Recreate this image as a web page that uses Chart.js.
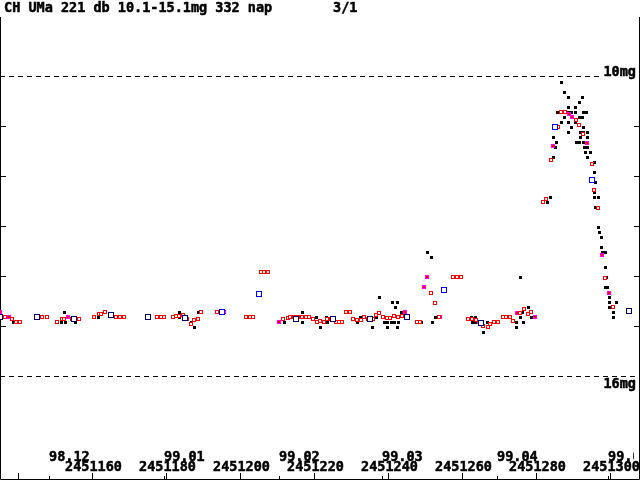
<!DOCTYPE html>
<html><head><meta charset="utf-8">
<script src="https://cdn.jsdelivr.net/npm/chart.js@4.4.0/dist/chart.umd.min.js"></script>
<style>html,body{margin:0;padding:0;background:#fff;overflow:hidden}#wrap{width:640px;height:480px;position:relative}canvas{display:block}</style>
</head><body><div id="wrap"><canvas id="c" width="640" height="480"></canvas></div>
<script>
const titleText = 'CH UMa 221 db 10.1-15.1mg 332 nap';
const pageText = '3/1';
const jdTicks = [2451140,2451160,2451180,2451200,2451220,2451240,2451260,2451280,2451300];
const jdLabels = ['','2451160','2451180','2451200','2451220','2451240','2451260','2451280','2451300'];
const monthJD = [2451148.5,2451179.5,2451210.5,2451238.5,2451269.5,2451299.5];
const monthLabels = ['98.12','99.01','99.02','99.03','99.04','99.05'];
const magTicks = [11,12,13,14,15];
const magLines = [10,16];
const magLineLabels = ['10mg','16mg'];

// visual estimates (black dots)
const visJD = [2451138.7,2451152.5,2451151.7,2451152.8,2451155.5,2451161.7,2451183.6,2451183.6,2451186.8,2451187.7,2451188.7,
2451212.0,2451216.8,2451216.8,2451220.6,2451221.7,2451223.3,2451223.6,2451229.5,2451231.7,2451232.5,2451235.8,2451236.8,2451237.7,
2451239.0,2451239.8,2451240.9,2451241.7,2451242.0,2451242.8,2451242.5,2451241.2,2451239.8,2451242.5,2451243.6,2451249.0,2451252.0,
2451252.8,2451250.6,2451251.7,2451262.5,2451263.6,2451262.8,2451263.6,2451266.8,2451265.8,2451275.8,2451276.3,2451277.9,2451275.8,
2451274.7,2451276.6,2451274.7,2451278.7,
2451286.8,2451287.7,2451288.7,2451292.3,2451291.7,2451288.7,2451290.6,2451285.8,2451288.7,2451289.5,2451290.6,2451292.8,2451293.6,
2451287.7,2451291.7,2451292.3,2451286.8,2451288.7,2451290.6,2451292.8,2451289.5,2451288.7,2451292.0,2451292.8,2451293.9,2451284.7,
2451292.0,2451293.9,2451285.5,2451290.9,2451291.7,2451292.8,2451285.2,2451293.1,2451293.9,2451293.3,2451294.7,2451293.9,2451284.7,
2451295.8,2451295.8,2451296.0,2451295.8,2451295.8,2451296.8,2451283.9,2451283.1,2451296.0,2451296.8,2451297.1,2451297.7,2451297.7,
2451297.9,2451298.7,2451298.7,2451299.0,2451298.7,2451299.3,2451299.8,2451299.8,2451301.7,2451299.8,2451300.9,2451300.9];
const visMag = [14.9,14.7,14.9,14.9,14.9,14.8,14.7,14.8,14.9,15.0,14.7,
14.9,14.7,14.9,14.8,15.0,14.8,14.9,14.7,14.9,14.8,15.0,14.8,14.4,
14.9,14.9,14.9,14.9,14.6,14.9,14.5,14.5,15.0,15.0,14.7,14.9,14.9,
14.8,13.5,13.6,14.8,14.8,14.9,14.9,14.9,15.1,14.0,14.7,14.6,14.8,
14.9,14.9,15.0,14.8,
10.1,10.3,10.4,10.4,10.5,10.6,10.6,10.7,10.7,10.7,10.7,10.7,10.7,
10.8,10.8,10.8,10.9,10.9,10.9,11.0,11.0,11.1,11.1,11.1,11.1,11.2,
11.2,11.2,11.3,11.3,11.3,11.3,11.4,11.4,11.4,11.5,11.5,11.6,11.6,
11.7,11.9,12.1,12.3,12.4,12.4,12.4,12.5,12.6,13.0,13.1,13.2,13.4,
13.5,13.5,13.8,14.0,14.2,14.2,14.4,14.5,14.5,14.6,14.7,14.8];

// red squares
const redJD = [2451136.3,2451138.2,2451139.3,2451140.4,2451146.3,2451147.7,2451150.4,2451151.7,2451152.2,2451154.4,2451155.8,2451156.3,
2451160.4,2451161.7,2451162.2,2451163.3,2451166.3,2451167.4,2451168.5,2451177.4,2451178.5,2451179.3,2451181.7,2451182.5,2451183.3,
2451184.4,2451185.5,2451186.6,2451187.4,2451188.5,2451189.3,2451193.6,2451194.4,2451205.5,2451206.3,2451207.4,2451201.4,2451202.5,
2451203.3,2451211.4,2451212.8,2451213.3,2451214.4,2451215.5,2451216.6,2451217.7,2451218.5,2451219.5,2451220.6,2451221.4,2451222.5,
2451223.3,2451224.4,2451225.8,2451226.6,2451227.4,2451228.5,2451229.5,2451230.4,2451231.4,2451232.5,2451233.3,2451234.4,2451235.8,
2451236.6,2451237.4,2451238.5,2451239.5,2451240.4,2451241.4,2451242.5,2451243.6,2451247.7,2451248.5,2451253.6,2451251.4,2451252.5,
2451257.4,2451258.5,2451259.5,2451261.4,2451262.5,2451263.6,2451265.5,2451266.8,2451267.4,2451268.5,2451269.5,2451270.9,2451271.7,
2451272.8,2451273.6,2451275.5,2451276.6,2451277.7,2451278.5,
2451286.6,2451287.7,2451290.6,2451291.4,2451285.8,2451292.5,2451283.9,2451295.0,2451295.5,2451296.6,2451282.5,2451281.7,2451298.5,2451300.6];
const redMag = [14.80,14.84,14.90,14.90,14.80,14.80,14.90,14.84,14.84,14.84,14.84,14.84,
14.80,14.74,14.74,14.70,14.80,14.80,14.80,14.80,14.80,14.80,14.80,14.78,14.78,
14.76,14.84,14.94,14.86,14.84,14.70,14.70,14.70,13.90,13.90,13.90,14.80,14.80,
14.80,14.84,14.82,14.80,14.80,14.80,14.80,14.80,14.80,14.84,14.90,14.88,14.90,
14.84,14.84,14.90,14.90,14.90,14.70,14.70,14.84,14.86,14.86,14.80,14.84,14.84,
14.76,14.72,14.80,14.82,14.82,14.78,14.80,14.78,14.90,14.90,14.80,14.32,14.52,
14.00,14.00,14.00,14.84,14.84,14.86,14.98,15.00,14.94,14.90,14.90,14.80,14.80,
14.80,14.88,14.72,14.64,14.74,14.70,
10.70,10.70,10.86,10.96,11.00,11.14,11.66,11.74,12.26,12.62,12.44,12.50,14.02,14.60];

// magenta squares
const magJD = [2451135.0,2451137.4,2451153.3,2451195.5,2451210.4,2451244.4,2451250.4,2451249.5,2451253.9,2451264.4,2451274.7,2451279.5,
2451288.7,2451289.5,2451293.6,2451284.4,2451297.7,2451299.5];
const magMag = [14.70,14.80,14.80,14.70,14.90,14.70,14.00,14.20,14.80,14.90,14.72,14.80,
10.74,10.80,11.32,11.38,13.56,14.32];

// 10-day means (large squares)
const meanJD = [2451135,2451145,2451155,2451165,2451175,2451185,2451215,2451225,2451235,2451245,2451265,2451305];
const meanMag = [14.80,14.80,14.84,14.76,14.80,14.82,14.84,14.84,14.84,14.80,14.92,14.68];
const mean2JD = [2451195,2451205,2451255,2451285,2451295];
const mean2Mag = [14.70,14.34,14.26,11.00,12.06];

const PX_PER_DAY = 3.7;
const X_MIN = 2451135;
const Y_MIN = 8.46, Y_SPAN = 9.6;

function box(size, stroke, fill){
  const c=document.createElement('canvas'); c.width=size; c.height=size;
  const g=c.getContext('2d');
  g.fillStyle=stroke; g.fillRect(0,0,size,size);
  g.fillStyle=fill; g.fillRect(1,1,size-2,size-2);
  return c;
}
function dot(w,h,col){
  const c=document.createElement('canvas'); c.width=w; c.height=h;
  const g=c.getContext('2d'); g.fillStyle=col; g.fillRect(0,0,w,h); return c;
}
const pts=(xs,ys)=>xs.map((x,i)=>({x:x,y:ys[i]}));

const FONT='bold 13.5px "DejaVu Sans Mono", "Liberation Mono", monospace';

function boldText(ctx, t, x, y){
  ctx.fillText(t,x,y);
  ctx.strokeText(t,x,y);
}

const deco={
  id:'deco',
  beforeDatasetsDraw(chart){
    const ctx=chart.ctx, xs=chart.scales.x, ys=chart.scales.y;
    ctx.save();
    ctx.strokeStyle='#000'; ctx.lineWidth=1;
    ctx.setLineDash([5,4]);
    magLines.forEach(m=>{
      const y=Math.floor(ys.getPixelForValue(m))+0.5;
      ctx.beginPath(); ctx.moveTo(0,y); ctx.lineTo(640,y); ctx.stroke();
    });
    ctx.setLineDash([]);
    ctx.beginPath();
    ctx.moveTo(0.5,17); ctx.lineTo(0.5,479.5); ctx.lineTo(639.5,479.5); ctx.lineTo(639.5,17);
    ctx.stroke();
    magTicks.forEach(m=>{
      const y=Math.floor(ys.getPixelForValue(m))+0.5;
      ctx.beginPath(); ctx.moveTo(0,y); ctx.lineTo(6,y); ctx.moveTo(634,y); ctx.lineTo(640,y); ctx.stroke();
    });
    jdTicks.forEach(j=>{
      const x=Math.floor(xs.getPixelForValue(j))+0.5;
      ctx.beginPath(); ctx.moveTo(x,479); ctx.lineTo(x,473); ctx.stroke();
    });
    monthJD.forEach(j=>{
      const x=Math.floor(xs.getPixelForValue(j))+0.5;
      ctx.beginPath(); ctx.moveTo(x,479); ctx.lineTo(x,476); ctx.stroke();
    });
    ctx.restore();
    ctx.imageSmoothingEnabled=false;
  },
  afterDraw(chart){
    const ctx=chart.ctx, xs=chart.scales.x, ys=chart.scales.y;
    ctx.save();
    ctx.font=FONT; ctx.fillStyle='#000'; ctx.strokeStyle='#000'; ctx.lineWidth=0.5;
    ctx.textBaseline='alphabetic';
    ctx.textAlign='left';
    boldText(ctx,titleText,4,12);
    boldText(ctx,pageText,333,12);
    ctx.textAlign='right';
    magLines.forEach((m,i)=>{
      const y=ys.getPixelForValue(m);
      const w=ctx.measureText(magLineLabels[i]).width;
      if(i===0){
        ctx.fillStyle='#fff'; ctx.fillRect(635-w-2,y-11,w+3,11);
        ctx.fillStyle='#000'; boldText(ctx,magLineLabels[i],636,y-1);
      } else {
        boldText(ctx,magLineLabels[i],636,y+11);
      }
    });
    ctx.save();
    ctx.beginPath(); ctx.rect(0,0,634,480); ctx.clip();
    ctx.textAlign='left';
    monthJD.forEach((j,i)=>{
      boldText(ctx,monthLabels[i],Math.floor(xs.getPixelForValue(j)),461);
    });
    ctx.restore();
    ctx.textAlign='center';
    jdTicks.forEach((j,i)=>{
      if(jdLabels[i]) boldText(ctx,jdLabels[i],xs.getPixelForValue(j)+1,471);
    });
    ctx.restore();
  }
};

new Chart(document.getElementById('c'),{
  type:'scatter',
  data:{datasets:[
    {label:'mean',data:pts(meanJD,meanMag),pointStyle:box(6,'#00006a','#fff'),pointRadius:3},
    {label:'mean2',data:pts(mean2JD,mean2Mag),pointStyle:box(6,'#0000ff','#fff'),pointRadius:3},
    {label:'red',data:pts(redJD,redMag),pointStyle:box(4,'#ff0000','#fff'),pointRadius:2},
    {label:'magenta',data:pts(magJD,magMag),pointStyle:box(4,'#ff00ff','#ff0000'),pointRadius:2},
    {label:'vis',data:pts(visJD,visMag),pointStyle:dot(3,3,'#000'),pointRadius:2}
  ]},
  options:{
    responsive:false, animation:false, devicePixelRatio:1, events:[],
    layout:{padding:0, autoPadding:false},
    plugins:{legend:{display:false},tooltip:{enabled:false},title:{display:false}},
    scales:{
      x:{type:'linear',min:X_MIN,max:X_MIN+640/PX_PER_DAY,display:false},
      y:{type:'linear',min:Y_MIN,max:Y_MIN+Y_SPAN,reverse:true,display:false}
    }
  },
  plugins:[deco]
});
</script>
</body></html>
